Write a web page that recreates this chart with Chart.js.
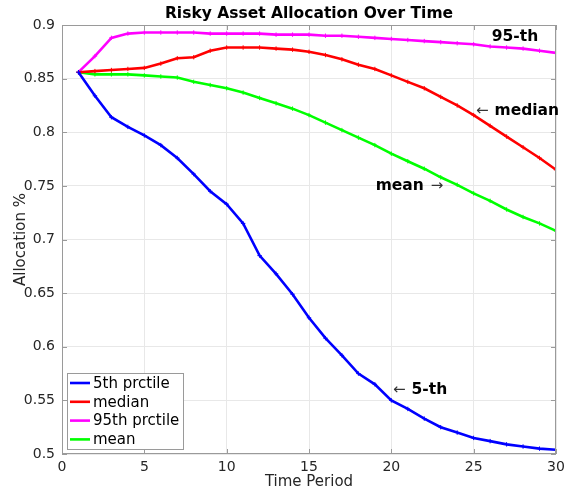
<!DOCTYPE html>
<html>
<head>
<meta charset="utf-8">
<script src="https://cdn.jsdelivr.net/npm/chart.js@4"></script>
<style>
  html, body { margin: 0; padding: 0; background: #fff; }
  #wrap { width: 566px; height: 492px; }
</style>
</head>
<body>
<div id="wrap"><canvas id="chart" width="566" height="492"></canvas></div>
<script>
// time periods 1..30
const periods = [1,2,3,4,5,6,7,8,9,10,11,12,13,14,15,16,17,18,19,20,21,22,23,24,25,26,27,28,29,30];

const p5 = [0.856,0.834,0.814,0.805,0.797,0.788,0.776,0.761,0.745,0.733,0.715,0.685,0.668,0.649,0.627,0.608,0.592,0.575,0.565,0.550,0.542,0.533,0.525,0.520,0.515,0.512,0.509,0.507,0.505,0.504];
const median = [0.856,0.857,0.858,0.859,0.860,0.864,0.869,0.870,0.876,0.879,0.879,0.879,0.878,0.877,0.875,0.872,0.868,0.863,0.859,0.853,0.847,0.841,0.833,0.825,0.816,0.806,0.796,0.786,0.776,0.765];
const p95 = [0.856,0.871,0.888,0.892,0.893,0.893,0.893,0.893,0.892,0.892,0.892,0.892,0.891,0.891,0.891,0.890,0.890,0.889,0.888,0.887,0.886,0.885,0.884,0.883,0.882,0.880,0.879,0.878,0.876,0.874];
const mean = [0.856,0.854,0.854,0.854,0.853,0.852,0.851,0.847,0.844,0.841,0.837,0.832,0.827,0.822,0.816,0.809,0.802,0.795,0.788,0.780,0.773,0.766,0.758,0.751,0.743,0.736,0.728,0.721,0.715,0.708];

const xTicks = [0,5,10,15,20,25,30];
const yTicks = [0.5,0.55,0.6,0.65,0.7,0.75,0.8,0.85,0.9];

// text labels on the plot: [text, arrow, arrowSide, x, y]
const notes = [
  ["95-th", "", "", 26.1, 0.8885],
  ["median", "\u2190", "left", 25.14, 0.8196],
  ["mean", "\u2192", "right", 19.05, 0.7497],
  ["5-th", "\u2190", "left", 20.1, 0.5596],
];

const FONT = "'DejaVu Sans', sans-serif";
const TXT = "#262626";
const AXIS = "#9a9a9a";

function toPoints(ys) {
  return periods.map((t, i) => ({ x: t, y: ys[i] }));
}

function series(label, ys, color) {
  return {
    label,
    data: toPoints(ys),
    borderColor: color,
    backgroundColor: color,
    borderWidth: 2.6,
    pointStyle: "cross",
    pointRadius: 2.2,
    pointBorderWidth: 1,
    tension: 0,
  };
}

// ====================================================
// box, inward ticks, title, notes and legend
// ====================================================
const matlabLook = {
  id: "matlabLook",
  afterDraw(chart) {
    const ctx = chart.ctx;
    const a = chart.chartArea;
    const xs = chart.scales.x, ys = chart.scales.y;
    ctx.save();

    // box + inward ticks
    ctx.strokeStyle = AXIS;
    ctx.lineWidth = 1;
    ctx.strokeRect(a.left + 0.5, a.top + 0.5, a.right - a.left - 1, a.bottom - a.top - 1);
    ctx.beginPath();
    xTicks.forEach(v => {
      const px = Math.round(xs.getPixelForValue(v)) + 0.5;
      ctx.moveTo(px, a.bottom); ctx.lineTo(px, a.bottom - 5);
      ctx.moveTo(px, a.top); ctx.lineTo(px, a.top + 5);
    });
    yTicks.forEach(v => {
      const py = Math.round(ys.getPixelForValue(v)) + 0.5;
      ctx.moveTo(a.left, py); ctx.lineTo(a.left + 5, py);
      ctx.moveTo(a.right, py); ctx.lineTo(a.right - 5, py);
    });
    ctx.stroke();

    // title
    ctx.fillStyle = "#000";
    ctx.font = "bold 15.5px " + FONT;
    ctx.textAlign = "center";
    ctx.textBaseline = "middle";
    ctx.fillText("Risky Asset Allocation Over Time", (a.left + a.right) / 2, 14);

    // notes
    ctx.textAlign = "left";
    notes.forEach(([txt, arrow, side, x, y]) => {
      let px = xs.getPixelForValue(x);
      const py = ys.getPixelForValue(y);
      if (arrow && side === "left") {
        ctx.font = "15px " + FONT;
        ctx.fillStyle = "#333";
        ctx.fillText(arrow, px, py);
        px += ctx.measureText(arrow).width + 6;
      }
      ctx.font = "bold 15.5px " + FONT;
      ctx.fillStyle = "#000";
      ctx.fillText(txt, px, py);
      px += ctx.measureText(txt).width + 7;
      if (arrow && side === "right") {
        ctx.font = "15px " + FONT;
        ctx.fillStyle = "#333";
        ctx.fillText(arrow, px, py);
      }
    });

    // legend
    const lx = a.left + 5, ly = 373, lw = 116, lh = 76;
    ctx.fillStyle = "#fff";
    ctx.fillRect(lx, ly, lw, lh);
    ctx.strokeStyle = AXIS;
    ctx.lineWidth = 1;
    ctx.strokeRect(lx + 0.5, ly + 0.5, lw, lh);
    ctx.font = "15px " + FONT;
    chart.data.datasets.forEach((ds, i) => {
      const cy = ly + 10 + i * 18.8;
      ctx.strokeStyle = ds.borderColor;
      ctx.lineWidth = 2.6;
      ctx.beginPath();
      ctx.moveTo(lx + 3, cy); ctx.lineTo(lx + 23, cy);
      ctx.stroke();
      ctx.fillStyle = "#000";
      ctx.fillText(ds.label, lx + 26, cy + 1);
    });
    ctx.restore();
  },
};

new Chart(document.getElementById("chart"), {
  type: "line",
  data: {
    datasets: [
      series("5th prctile", p5, "#0000ff"),
      series("median", median, "#ff0000"),
      series("95th prctile", p95, "#ff00ff"),
      series("mean", mean, "#00ff00"),
    ],
  },
  options: {
    responsive: false,
    animation: false,
    layout: { padding: { top: 25, right: 10, left: 0, bottom: 0 } },
    plugins: { legend: { display: false }, tooltip: { enabled: false } },
    scales: {
      x: {
        type: "linear",
        min: 0,
        max: 30,
        afterBuildTicks: s => { s.ticks = xTicks.map(v => ({ value: v })); },
        afterFit: s => { s.height = 38; s.paddingLeft = 0; s.paddingRight = 0; },
        grid: { color: "#e8e8e8", drawTicks: false },
        border: { display: false },
        ticks: { color: TXT, font: { family: FONT, size: 14 }, padding: 5, maxRotation: 0 },
        title: { display: true, text: "Time Period", color: TXT, font: { family: FONT, size: 15 }, padding: { top: 0, bottom: 1 } },
      },
      y: {
        min: 0.5,
        max: 0.9,
        afterBuildTicks: s => { s.ticks = yTicks.map(v => ({ value: v })); },
        afterFit: s => { s.width = 62; s.paddingTop = 0; s.paddingBottom = 0; },
        grid: { color: "#e8e8e8", drawTicks: false },
        border: { display: false },
        ticks: { color: TXT, font: { family: FONT, size: 14 }, padding: 7, callback: v => String(+v.toFixed(2)) },
        title: { display: true, text: "Allocation %", color: TXT, font: { family: FONT, size: 15 }, padding: { top: 12, bottom: 0 } },
      },
    },
  },
  plugins: [matlabLook],
});
</script>
</body>
</html>
